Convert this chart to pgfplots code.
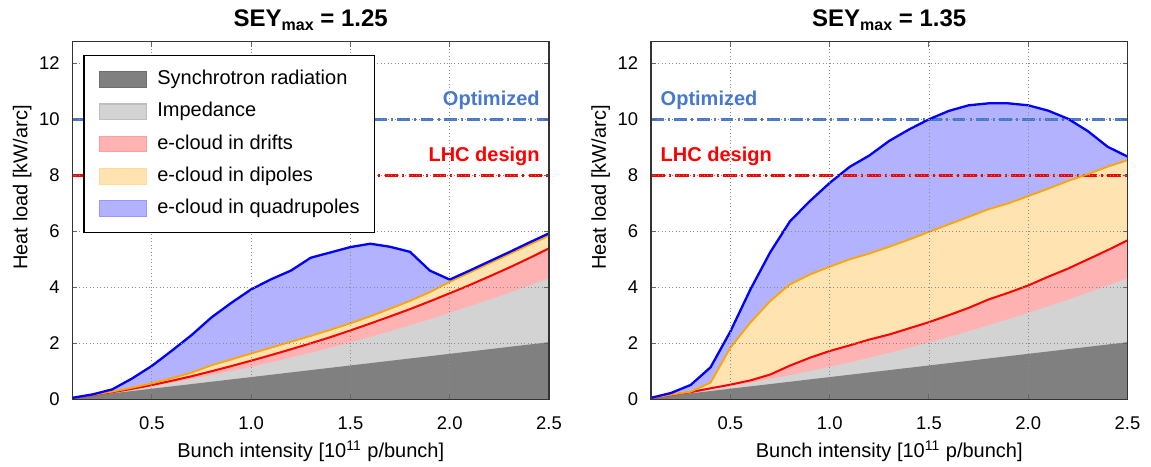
\documentclass[border=0pt]{standalone}
\usepackage{fontspec}
\setmainfont{Liberation Sans}
\usepackage{pgfplots}
\pgfplotsset{compat=1.18}
\usepackage{pgfplotstable}

\definecolor{srcol}{RGB}{128,128,128}
\definecolor{impcol}{RGB}{211,211,211}
\definecolor{drfill}{RGB}{255,178,178}
\definecolor{dpfill}{RGB}{255,228,178}
\definecolor{qpfill}{RGB}{178,178,255}
\definecolor{dpline}{RGB}{255,165,0}
\definecolor{optcol}{RGB}{70,120,205}

\pgfplotstableread{
x sr imp dr dp qp
0.1 0.053 0.057 0.057 0.057 0.060
0.2 0.136 0.151 0.156 0.166 0.180
0.3 0.219 0.252 0.262 0.282 0.360
0.4 0.302 0.360 0.380 0.420 0.750
0.5 0.385 0.476 0.516 0.576 1.200
0.6 0.468 0.599 0.669 0.759 1.740
0.7 0.551 0.730 0.830 0.960 2.300
0.8 0.634 0.868 1.008 1.220 2.930
0.9 0.717 1.013 1.193 1.430 3.450
1.0 0.800 1.165 1.385 1.640 3.930
1.1 0.883 1.325 1.585 1.850 4.290
1.2 0.966 1.492 1.792 2.060 4.600
1.3 1.049 1.666 2.006 2.270 5.060
1.4 1.132 1.847 2.227 2.490 5.250
1.5 1.215 2.036 2.466 2.720 5.440
1.6 1.298 2.232 2.712 2.970 5.560
1.7 1.381 2.436 2.966 3.240 5.450
1.8 1.464 2.647 3.227 3.520 5.270
1.9 1.547 2.865 3.505 3.830 4.600
2.0 1.630 3.090 3.790 4.200 4.280
2.1 1.713 3.323 4.083 4.530 4.600
2.2 1.796 3.563 4.393 4.860 4.930
2.3 1.879 3.810 4.710 5.190 5.260
2.4 1.962 4.064 5.044 5.520 5.600
2.5 2.045 4.326 5.396 5.850 5.930
}\tabL

\pgfplotstableread{
x sr imp dr dp qp
0.1 0.053 0.057 0.057 0.057 0.060
0.2 0.136 0.151 0.160 0.170 0.230
0.3 0.219 0.252 0.262 0.280 0.520
0.4 0.302 0.360 0.400 0.600 1.150
0.5 0.385 0.476 0.530 1.850 2.430
0.6 0.468 0.599 0.680 2.740 3.920
0.7 0.551 0.730 0.890 3.510 5.250
0.8 0.634 0.868 1.210 4.110 6.360
0.9 0.717 1.013 1.490 4.460 7.080
1.0 0.800 1.165 1.730 4.740 7.730
1.1 0.883 1.325 1.930 5.000 8.300
1.2 0.966 1.492 2.140 5.210 8.710
1.3 1.049 1.666 2.320 5.450 9.230
1.4 1.132 1.847 2.540 5.710 9.640
1.5 1.215 2.036 2.760 5.980 10.000
1.6 1.298 2.232 3.010 6.250 10.300
1.7 1.381 2.436 3.270 6.520 10.500
1.8 1.464 2.647 3.570 6.790 10.570
1.9 1.547 2.865 3.810 7.000 10.570
2.0 1.630 3.090 4.070 7.260 10.500
2.1 1.713 3.323 4.380 7.520 10.310
2.2 1.796 3.563 4.670 7.800 10.020
2.3 1.879 3.810 5.000 8.040 9.580
2.4 1.962 4.064 5.330 8.310 9.020
2.5 2.045 4.326 5.680 8.540 8.670
}\tabR

\tikzset{reflabel/.style={inner sep=0pt, font=\bfseries\fontsize{10}{12}\selectfont}}

\pgfplotsset{
  patch legend/.style={legend image code/.code={\draw[##1] (0pt,-3.9pt) rectangle (23.3pt,3.9pt);}},
  every axis title/.style={at={(0.5,1)}, anchor=base, yshift=7.7pt, font=\bfseries\fontsize{12}{14}\selectfont},
  heatax/.style={
    scale only axis, width=238.25pt, height=178.9pt,
    xmin=0.1, xmax=2.5, ymin=0, ymax=12.77,
    xtick={0.5,1.0,1.5,2.0,2.5}, xticklabels={0.5,1.0,1.5,2.0,2.5},
    ytick={0,2,...,12},
    tick align=inside, tick pos=both, major tick length=2.5pt,
    tick style={black!60, line width=0.5pt},
    grid=major, grid style={black!45, line width=0.45pt, dash pattern=on 0.45pt off 1.3pt},
    axis line style={black!80, line width=0.7pt},
    axis on top,
    tick label style={font=\fontsize{9.2}{11}\selectfont},
    /pgf/number format/assume math mode=true,
    yticklabel style={anchor=east, inner sep=0pt, xshift=-6.25pt},
    xticklabel style={anchor=north, inner sep=0pt, yshift=-8.25pt},
    xlabel={Bunch intensity [10\textsuperscript{11} p/bunch]},
    ylabel={Heat load [kW/arc]},
    label style={font=\fontsize{10}{12}\selectfont},
    xlabel style={at={(axis description cs:0.5,0)}, anchor=base, yshift=-28.9pt},
    ylabel style={at={(axis description cs:-0.1058,0.5925)}, anchor=center},
  },
  fills/.style={fill=#1, draw=none, forget plot},
  optline/.style={optcol, line width=1.5pt, dash pattern=on 6.4pt off 2.1pt on 1pt off 2.1pt, forget plot},
  lhcline/.style={red, line width=1.5pt, dash pattern=on 6.8pt off 2.1pt on 1pt off 2.1pt, forget plot},
}

\newcommand{\maxsub}{\raisebox{-2pt}{\fontsize{8}{8}\selectfont max}}

\begin{document}
\begin{tikzpicture}
\useasboundingbox (-36.25pt,-33.25pt) rectangle (539.25pt,199.75pt);
% ---------------- left panel ----------------
\begin{axis}[heatax, at={(0pt,0pt)}, anchor=south west,
  title={SEY\maxsub{} = 1.25},
  legend style={at={(axis description cs:0.0227,0.9628)}, anchor=north west, draw=black, line width=0.6pt, fill=white,
    inner xsep=7.5pt, inner ysep=7.2pt, row sep=6.75pt, column sep=5.3pt,
    font=\fontsize{10}{12}\selectfont, nodes={inner sep=0pt, text height=7.3pt, text depth=2.1pt}},
  legend cell align=left]
\addplot[fills=qpfill] table[x=x,y=qp]{\tabL} \closedcycle;
\addplot[fills=dpfill] table[x=x,y=dp]{\tabL} \closedcycle;
\addplot[fills=drfill] table[x=x,y=dr]{\tabL} \closedcycle;
\addplot[fills=impcol] table[x=x,y=imp]{\tabL} \closedcycle;
\addplot[fills=srcol] table[x=x,y=sr]{\tabL} \closedcycle;
\addplot[optline] coordinates {(0.1,10) (2.5,10)};
\addplot[lhcline] coordinates {(0.1,8) (2.5,8)};
\addplot[red, line width=1.0pt, forget plot] table[x=x,y=dr]{\tabL};
\addplot[dpline, line width=0.9pt, forget plot] table[x=x,y=dp]{\tabL};
\addplot[blue, line width=1.15pt, forget plot] table[x=x,y=qp]{\tabL};
\node[reflabel, anchor=base east, text=optcol] at (axis cs:2.455,10.48) {Optimized};
\node[reflabel, anchor=base east, text=red] at (axis cs:2.455,8.49) {LHC design};
\addlegendimage{patch legend, fill=srcol, draw=srcol!85!black}
\addlegendentry{Synchrotron radiation}
\addlegendimage{patch legend, fill=impcol, draw=impcol!90!black}
\addlegendentry{Impedance}
\addlegendimage{patch legend, fill=drfill, draw=drfill!90!red}
\addlegendentry{e-cloud in drifts}
\addlegendimage{patch legend, fill=dpfill, draw=dpfill!85!dpline}
\addlegendentry{e-cloud in dipoles}
\addlegendimage{patch legend, fill=qpfill, draw=qpfill!85!blue}
\addlegendentry{e-cloud in quadrupoles}
\end{axis}
% ---------------- right panel ----------------
\begin{axis}[heatax, at={(289.25pt,0pt)}, anchor=south west,
  title={SEY\maxsub{} = 1.35}]
\addplot[fills=qpfill] table[x=x,y=qp]{\tabR} \closedcycle;
\addplot[fills=dpfill] table[x=x,y=dp]{\tabR} \closedcycle;
\addplot[fills=drfill] table[x=x,y=dr]{\tabR} \closedcycle;
\addplot[fills=impcol] table[x=x,y=imp]{\tabR} \closedcycle;
\addplot[fills=srcol] table[x=x,y=sr]{\tabR} \closedcycle;
\addplot[optline] coordinates {(0.1,10) (2.5,10)};
\addplot[lhcline] coordinates {(0.1,8) (2.5,8)};
\addplot[red, line width=1.0pt, forget plot] table[x=x,y=dr]{\tabR};
\addplot[dpline, line width=0.9pt, forget plot] table[x=x,y=dp]{\tabR};
\addplot[blue, line width=1.15pt, forget plot] table[x=x,y=qp]{\tabR};
\node[reflabel, anchor=base west, text=optcol] at (axis cs:0.147,10.48) {Optimized};
\node[reflabel, anchor=base west, text=red] at (axis cs:0.147,8.49) {LHC design};
\end{axis}
\end{tikzpicture}
\end{document}
